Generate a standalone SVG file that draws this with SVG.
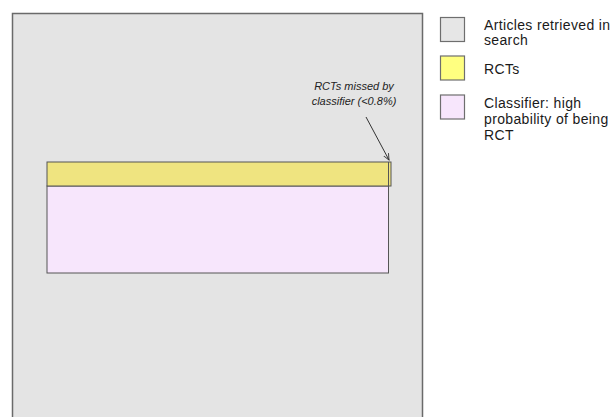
<svg xmlns="http://www.w3.org/2000/svg" width="614" height="417" viewBox="0 0 614 417">
<style>
.lbl{font-family:"Liberation Sans",Arial,Helvetica,sans-serif;font-size:14px;letter-spacing:0.35px;fill:#1a1a1a}
.ann{font-family:"Liberation Sans",Arial,Helvetica,sans-serif;font-size:11px;font-style:italic;fill:#222;text-anchor:middle}
.box{stroke:#6e6e6e;stroke-width:1.2}
</style>
<defs>
<marker id="arr" viewBox="0 0 10 10" refX="9" refY="5" markerWidth="7" markerHeight="7" orient="auto" markerUnits="userSpaceOnUse">
<path d="M0,1 L9,5 L0,9" fill="none" stroke="#333" stroke-width="1.3"/>
</marker>
</defs>
<rect width="614" height="417" fill="#ffffff"/>
<g id="search">
<rect x="12.5" y="13.5" width="410" height="420" fill="#e4e4e4" stroke="#6a6a6a" stroke-width="1.5"/>
</g>
<g id="classifier">
<rect x="47" y="186" width="341.5" height="87" fill="#f7e6fc" stroke="#555" stroke-width="1"/>
</g>
<g id="rcts">
<rect x="47" y="162" width="344" height="24" fill="#efe480" stroke="#555" stroke-width="1"/>
<line x1="388.5" y1="162" x2="388.5" y2="186" stroke="#555" stroke-width="1"/>
</g>
<g id="annotation">
<text class="ann" x="354" y="90">RCTs missed by</text>
<text class="ann" x="354" y="104.5">classifier (&lt;0.8%)</text>
</g>
<g id="connectors">
<line x1="366" y1="117" x2="389" y2="160" stroke="#333" stroke-width="1" marker-end="url(#arr)"/>
</g>
<g id="legend">
<g id="legend-search">
<rect class="box" x="440.5" y="17.5" width="24" height="24" fill="#e6e6e6"/>
<text class="lbl" x="484" y="29.5">Articles retrieved in</text>
<text class="lbl" x="484" y="45.3">search</text>
</g>
<g id="legend-rcts">
<rect class="box" x="440.5" y="56" width="24" height="24" fill="#ffff80"/>
<text class="lbl" x="484" y="74">RCTs</text>
</g>
<g id="legend-classifier">
<rect class="box" x="440.5" y="95" width="24" height="24" fill="#f7e6fc"/>
<text class="lbl" x="484" y="108">Classifier: high</text>
<text class="lbl" x="484" y="123.8">probability of being</text>
<text class="lbl" x="484" y="139.6">RCT</text>
</g>
</g>
</svg>
